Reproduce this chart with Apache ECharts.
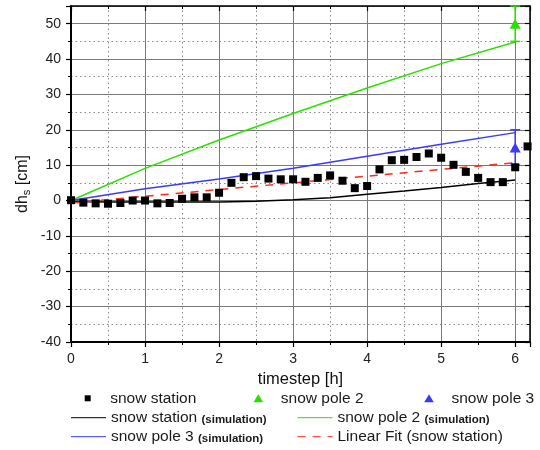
<!DOCTYPE html>
<html><head><meta charset="utf-8">
<script src="https://cdn.jsdelivr.net/npm/echarts@6/dist/echarts.min.js"></script>
<style>html,body{margin:0;padding:0;background:#fff}#c{width:540px;height:450px}</style>
</head><body><div id="c"></div>
<script>
// ---- data ----
const stationTime = [0, 0.167, 0.333, 0.5, 0.667, 0.833, 1, 1.167, 1.333, 1.5, 1.667, 1.833,
  2, 2.167, 2.333, 2.5, 2.667, 2.833, 3, 3.167, 3.333, 3.5, 3.667, 3.833,
  4, 4.167, 4.333, 4.5, 4.667, 4.833, 5, 5.167, 5.333, 5.5, 5.667, 5.833, 6, 6.167];
const stationDh = [0.1, -0.6, -0.8, -0.9, -0.7, 0.0, 0.0, -0.8, -0.7, 0.5, 0.9, 0.9,
  2.2, 5.0, 6.6, 6.9, 6.2, 6.0, 6.0, 5.3, 6.4, 7.1, 5.6, 3.5,
  4.1, 8.8, 11.4, 11.5, 12.3, 13.3, 12.1, 10.1, 8.1, 6.4, 5.2, 5.2, 9.4, 15.3];
const stationSimTime = [0, 0.5, 1, 1.5, 2, 2.5, 3, 3.5, 4, 4.5, 5, 5.5, 6];
const stationSim = [-0.3, -0.4, -0.4, -0.4, -0.4, -0.2, 0.2, 0.8, 1.8, 2.7, 3.7, 4.8, 5.8];
const poleSimTime = [0, 1, 2, 3, 4, 5, 6];
const pole2Sim = [0, 9.1, 17.1, 24.6, 31.8, 38.7, 44.8];
const pole3Sim = [0, 3.3, 6.1, 9.1, 12.5, 15.9, 19.2];
const fitTime = [0, 6];
const fitDh = [-0.7, 10.7];
const poleTime = [6];
const pole2Dh = [50];
const pole2Err = [5];
const pole3Dh = [15];
const pole3Err = [5];

const FONT = 'Liberation Sans';
const GREEN = '#2be000', BLUE = '#3a3aff', RED = '#ff2a1a';

const zip = (a, b) => a.map((v, i) => [v, b[i]]);
const errPts = (t, v, e) => [[t[0], v[0] - e[0]], [t[0], v[0] + e[0]]];

const legText = {
  fontFamily: FONT, fontSize: 15.5, color: '#1a1a1a', lineHeight: 16,
  rich: {
    a: { fontFamily: FONT, fontSize: 15.5, color: '#1a1a1a', lineHeight: 16 },
    b: { fontFamily: FONT, fontSize: 11.5, fontWeight: 'bold', color: '#1a1a1a', lineHeight: 12, verticalAlign: 'bottom' }
  }
};
const legFmt = name => name.indexOf(' (simulation)') >= 0
  ? '{a|' + name.replace(' (simulation)', '') + '} {b|(simulation)}'
  : '{a|' + name + '}';
function leg(name, left, centerY, h, icon) {
  const o = { data: [name], left: left, top: centerY - 8, itemWidth: 35, itemHeight: h,
    padding: 0, selectedMode: false, symbolKeepAspect: true,
    textStyle: legText, formatter: legFmt };
  if (icon) { o.icon = icon; }
  else { o.itemStyle = { opacity: 0 }; o.lineStyle = { width: 1 }; }
  return o;
}
const SQUARE = 'path://M0,0h10v10h-10z';
const TRI = 'path://M6,0L12,10L0,10z';

function xAx(pos) {
  const bottom = pos === 'bottom';
  return {
    type: 'value', position: pos, min: 0, max: 6.2, interval: 1,
    axisLine: { show: true, onZero: false, lineStyle: { color: '#000', width: bottom ? 2 : 1.5 } },
    axisTick: { show: true, inside: !bottom, length: 5, lineStyle: { color: '#000', width: 1.2 } },
    minorTick: { show: true, splitNumber: 2, length: 3, lineStyle: { color: '#000', width: 1 } },
    splitLine: { show: bottom, lineStyle: { color: '#7a7a7a', width: 1 } },
    minorSplitLine: { show: bottom, lineStyle: { color: '#8a8a8a', width: 1, type: [1.5, 3] } },
    axisLabel: { show: bottom, showMaxLabel: false, margin: 10, fontFamily: FONT, fontSize: 14, color: '#222' },
    name: bottom ? 'timestep [h]' : '', nameLocation: 'middle', nameGap: 24,
    nameTextStyle: { fontFamily: FONT, fontSize: 16.5, color: '#111' }
  };
}
function yAx(pos) {
  const left = pos === 'left';
  return {
    type: 'value', position: pos, min: -40, max: 55, interval: 10,
    axisLine: { show: true, onZero: false, lineStyle: { color: '#000', width: left ? 2 : 1.5 } },
    axisTick: { show: true, inside: !left, length: 5, lineStyle: { color: '#000', width: 1.2 } },
    minorTick: { show: true, splitNumber: 2, length: 3, lineStyle: { color: '#000', width: 1 } },
    splitLine: { show: left, lineStyle: { color: '#7a7a7a', width: 1 } },
    minorSplitLine: { show: left, lineStyle: { color: '#8a8a8a', width: 1, type: [1.5, 3] } },
    axisLabel: { show: left, showMaxLabel: false, margin: 10, fontFamily: FONT, fontSize: 14, color: '#222' }
  };
}

const option = {
  animation: false,
  backgroundColor: '#fff',
  grid: { left: 71, right: 10, top: 6, bottom: 108, containLabel: false },
  xAxis: [xAx('bottom'), xAx('top')],
  yAxis: [yAx('left'), yAx('right')],
  legend: [
    leg('snow station', 84.7, 398.3, 6, SQUARE),
    leg('snow pole 2', 253.5, 398.3, 8, TRI),
    leg('snow pole 3', 424.2, 398.3, 8, TRI),
    leg('snow station (simulation)', 70.5, 417.7, 8),
    leg('snow pole 2 (simulation)', 297, 417.7, 8),
    leg('snow pole 3 (simulation)', 70.5, 436.7, 8),
    leg('Linear Fit (snow station)', 297, 436.7, 8)
  ],
  graphic: [{
    type: 'text', x: 22.5, y: 184, rotation: Math.PI / 2,
    style: {
      text: '{a|dh}{s|s}{a| [cm]}', align: 'center', verticalAlign: 'middle',
      rich: {
        a: { fontFamily: FONT, fontSize: 16, fill: '#111', lineHeight: 20 },
        s: { fontFamily: FONT, fontSize: 11, fill: '#111', lineHeight: 10, verticalAlign: 'bottom' }
      }
    }
  }],
  series: [
    { name: 'snow station (simulation)', type: 'line', data: zip(stationSimTime, stationSim),
      symbol: 'none', lineStyle: { color: '#000', width: 1.5 }, itemStyle: { color: '#000' }, z: 3 },
    { name: 'snow pole 2 (simulation)', type: 'line', data: zip(poleSimTime, pole2Sim),
      symbol: 'none', lineStyle: { color: GREEN, width: 1.5 }, itemStyle: { color: GREEN }, z: 3 },
    { name: 'snow pole 3 (simulation)', type: 'line', data: zip(poleSimTime, pole3Sim),
      symbol: 'none', lineStyle: { color: BLUE, width: 1.5 }, itemStyle: { color: BLUE }, z: 3 },
    { name: 'Linear Fit (snow station)', type: 'line', data: zip(fitTime, fitDh),
      symbol: 'none', lineStyle: { color: RED, width: 1.5, type: [8, 7] }, itemStyle: { color: RED }, z: 3 },
    { name: 'err2', type: 'line', data: errPts(poleTime, pole2Dh, pole2Err),
      symbol: 'rect', symbolSize: [10, 1.5], showSymbol: true,
      lineStyle: { color: GREEN, width: 1.5 }, itemStyle: { color: GREEN }, z: 4 },
    { name: 'err3', type: 'line', data: errPts(poleTime, pole3Dh, pole3Err),
      symbol: 'rect', symbolSize: [10, 1.5], showSymbol: true,
      lineStyle: { color: BLUE, width: 1.5 }, itemStyle: { color: BLUE }, z: 4 },
    { name: 'snow station', type: 'scatter', data: zip(stationTime, stationDh),
      symbol: 'rect', symbolSize: 8, itemStyle: { color: '#000', opacity: 1 }, z: 5 },
    { name: 'snow pole 2', type: 'scatter', data: zip(poleTime, pole2Dh),
      symbol: 'triangle', symbolSize: [11, 10], itemStyle: { color: GREEN, opacity: 1 }, z: 5 },
    { name: 'snow pole 3', type: 'scatter', data: zip(poleTime, pole3Dh),
      symbol: 'triangle', symbolSize: [11, 10], itemStyle: { color: BLUE, opacity: 1 }, z: 5 }
  ]
};
const chart = echarts.init(document.getElementById('c'), null, { renderer: 'canvas' });
chart.setOption(option);
</script>
</body></html>
